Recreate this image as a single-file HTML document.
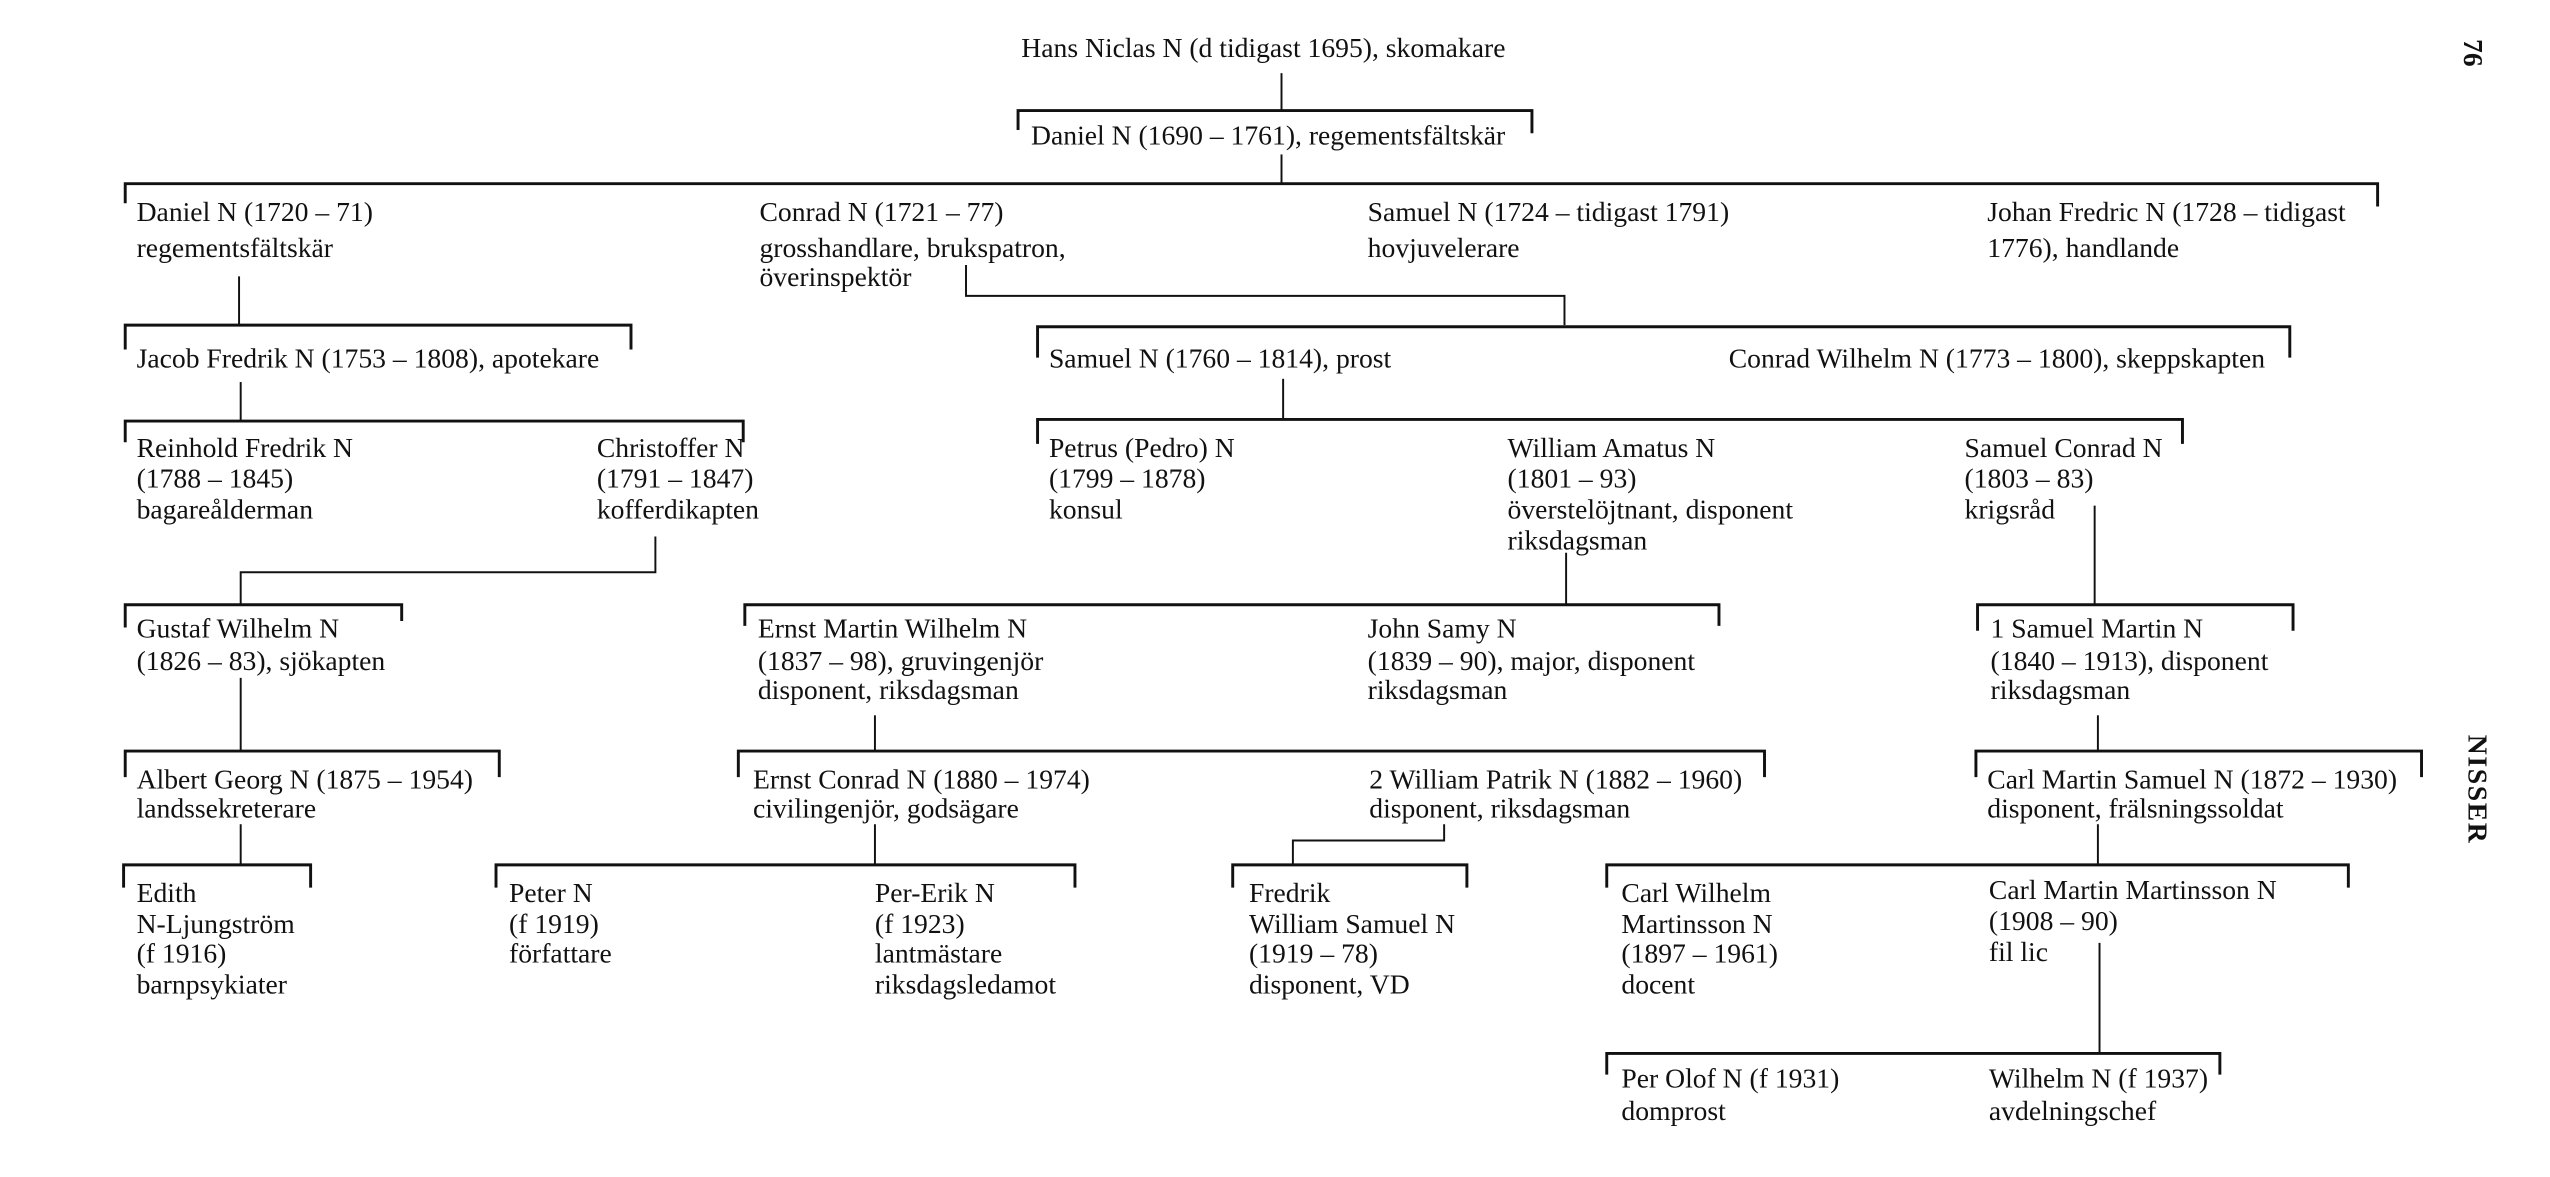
<!DOCTYPE html>
<html><head><meta charset="utf-8"><style>
html,body{margin:0;padding:0;background:#fff;}
svg{display:block;}
text{font-family:"Liberation Serif",serif;font-size:17px;fill:#111;}
.l{stroke:#111;stroke-width:1.2;fill:none;}
.b{stroke:#111;stroke-width:1.8;fill:none;}
</style></head><body>
<svg width="2550" height="1177" viewBox="0 0 1568 724" preserveAspectRatio="none" xmlns="http://www.w3.org/2000/svg">
<path class="l" d="M788 45V68"/>
<path class="b" d="M626 80V68H942V82"/>
<path class="l" d="M788 95V113"/>
<path class="b" d="M77 125V113H1462V127"/>
<path class="l" d="M147 170V200"/>
<path class="l" d="M594 163V182H962V200"/>
<path class="b" d="M77 215V200H388V215"/>
<path class="b" d="M638 220V201H1408V220"/>
<path class="l" d="M148 235V259"/>
<path class="b" d="M77 272V259H457V272"/>
<path class="l" d="M789 233V258"/>
<path class="b" d="M638 273V258H1342V273"/>
<path class="l" d="M403 330V352H148V372"/>
<path class="b" d="M77 386V372H247V382"/>
<path class="l" d="M963 340V372"/>
<path class="b" d="M458 385V372H1057V385"/>
<path class="l" d="M1288 311V372"/>
<path class="b" d="M1216 388V372H1410V388"/>
<path class="l" d="M148 417V462"/>
<path class="b" d="M77 478V462H307V478"/>
<path class="l" d="M538 440V462"/>
<path class="b" d="M454 478V462H1085V478"/>
<path class="l" d="M1290 440V462"/>
<path class="b" d="M1215 478V462H1489V478"/>
<path class="l" d="M148 507V532"/>
<path class="b" d="M76 546V532H191V546"/>
<path class="l" d="M538 507V532"/>
<path class="b" d="M305 546V532H661V546"/>
<path class="l" d="M888 507V517H795V532"/>
<path class="b" d="M758 546V532H902V546"/>
<path class="l" d="M1290 507V532"/>
<path class="b" d="M988 546V532H1444V546"/>
<path class="l" d="M1291 580V648"/>
<path class="b" d="M988 661V648H1365V661"/>
<text x="628" y="35">Hans Niclas N (d tidigast 1695), skomakare</text>
<text x="634" y="89">Daniel N (1690 – 1761), regementsfältskär</text>
<text x="84" y="136">Daniel N (1720 – 71)</text>
<text x="84" y="158">regementsfältskär</text>
<text x="467" y="136">Conrad N (1721 – 77)</text>
<text x="467" y="158">grosshandlare, brukspatron,</text>
<text x="467" y="176">överinspektör</text>
<text x="841" y="136">Samuel N (1724 – tidigast 1791)</text>
<text x="841" y="158">hovjuvelerare</text>
<text x="1222" y="136">Johan Fredric N (1728 – tidigast</text>
<text x="1222" y="158">1776), handlande</text>
<text x="84" y="226">Jacob Fredrik N (1753 – 1808), apotekare</text>
<text x="645" y="226">Samuel N (1760 – 1814), prost</text>
<text x="1063" y="226">Conrad Wilhelm N (1773 – 1800), skeppskapten</text>
<text x="84" y="281">Reinhold Fredrik N</text>
<text x="84" y="300">(1788 – 1845)</text>
<text x="84" y="319">bagareålderman</text>
<text x="367" y="281">Christoffer N</text>
<text x="367" y="300">(1791 – 1847)</text>
<text x="367" y="319">kofferdikapten</text>
<text x="645" y="281">Petrus (Pedro) N</text>
<text x="645" y="300">(1799 – 1878)</text>
<text x="645" y="319">konsul</text>
<text x="927" y="281">William Amatus N</text>
<text x="927" y="300">(1801 – 93)</text>
<text x="927" y="319">överstelöjtnant, disponent</text>
<text x="927" y="338">riksdagsman</text>
<text x="1208" y="281">Samuel Conrad N</text>
<text x="1208" y="300">(1803 – 83)</text>
<text x="1208" y="319">krigsråd</text>
<text x="84" y="392">Gustaf Wilhelm N</text>
<text x="84" y="412">(1826 – 83), sjökapten</text>
<text x="466" y="392">Ernst Martin Wilhelm N</text>
<text x="466" y="412">(1837 – 98), gruvingenjör</text>
<text x="466" y="430">disponent, riksdagsman</text>
<text x="841" y="392">John Samy N</text>
<text x="841" y="412">(1839 – 90), major, disponent</text>
<text x="841" y="430">riksdagsman</text>
<text x="1224" y="392">1 Samuel Martin N</text>
<text x="1224" y="412">(1840 – 1913), disponent</text>
<text x="1224" y="430">riksdagsman</text>
<text x="84" y="485">Albert Georg N (1875 – 1954)</text>
<text x="84" y="503">landssekreterare</text>
<text x="463" y="485">Ernst Conrad N (1880 – 1974)</text>
<text x="463" y="503">civilingenjör, godsägare</text>
<text x="842" y="485">2 William Patrik N (1882 – 1960)</text>
<text x="842" y="503">disponent, riksdagsman</text>
<text x="1222" y="485">Carl Martin Samuel N (1872 – 1930)</text>
<text x="1222" y="503">disponent, frälsningssoldat</text>
<text x="84" y="555">Edith</text>
<text x="84" y="574">N-Ljungström</text>
<text x="84" y="592">(f 1916)</text>
<text x="84" y="611">barnpsykiater</text>
<text x="313" y="555">Peter N</text>
<text x="313" y="574">(f 1919)</text>
<text x="313" y="592">författare</text>
<text x="538" y="555">Per-Erik N</text>
<text x="538" y="574">(f 1923)</text>
<text x="538" y="592">lantmästare</text>
<text x="538" y="611">riksdagsledamot</text>
<text x="768" y="555">Fredrik</text>
<text x="768" y="574">William Samuel N</text>
<text x="768" y="592">(1919 – 78)</text>
<text x="768" y="611">disponent, VD</text>
<text x="997" y="555">Carl Wilhelm</text>
<text x="997" y="574">Martinsson N</text>
<text x="997" y="592">(1897 – 1961)</text>
<text x="997" y="611">docent</text>
<text x="1223" y="553">Carl Martin Martinsson N</text>
<text x="1223" y="572">(1908 – 90)</text>
<text x="1223" y="591">fil lic</text>
<text x="997" y="669">Per Olof N (f 1931)</text>
<text x="997" y="689">domprost</text>
<text x="1223" y="669">Wilhelm N (f 1937)</text>
<text x="1223" y="689">avdelningschef</text>
<text transform="translate(1515,24) rotate(90)" style="font-size:17px;font-weight:bold">76</text>
<text transform="translate(1518,452) rotate(90)" style="font-size:17px;font-weight:bold;letter-spacing:1px">NISSER</text>
</svg>
</body></html>
